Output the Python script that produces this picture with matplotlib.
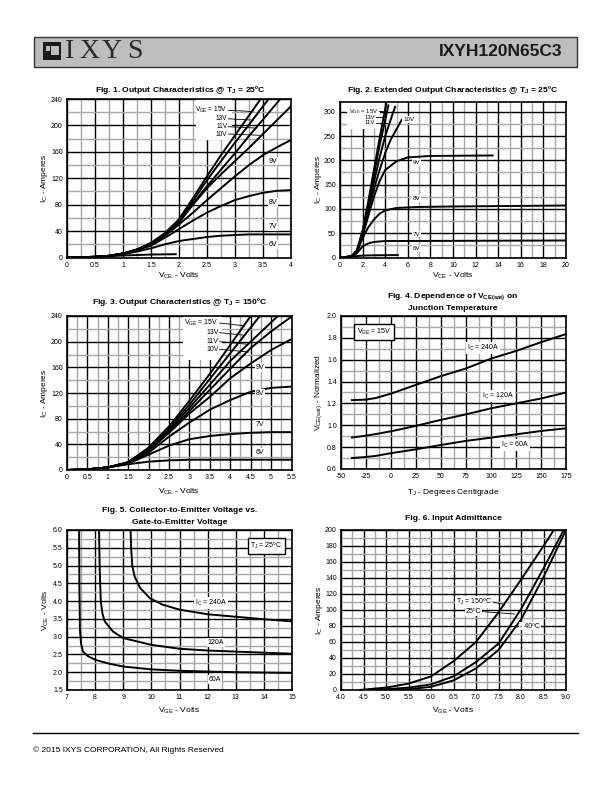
import matplotlib
matplotlib.use('Agg')
import matplotlib.pyplot as plt
from matplotlib.patches import Rectangle
from matplotlib import font_manager
import numpy as np

plt.rcParams['font.family'] = ['Liberation Sans', 'DejaVu Sans']
plt.rcParams['mathtext.fontset'] = 'custom'
plt.rcParams['mathtext.rm'] = 'Liberation Sans'
plt.rcParams['mathtext.it'] = 'Liberation Sans:italic'
plt.rcParams['mathtext.bf'] = 'Liberation Sans:bold'

# fuente estrecha para titulos si existe
_nombres = {f.name for f in font_manager.fontManager.ttflist}
if 'Liberation Sans Narrow' in _nombres:
    NARROW, TSIZE = ['Liberation Sans Narrow', 'Liberation Sans'], 7
else:
    NARROW, TSIZE = ['Liberation Sans', 'DejaVu Sans'], 6.1

# ---------------- datos ----------------
# Fig. 1  (Tj = 25C)
f1_vce = [0, 0.5, 0.75, 1.0, 1.25, 1.5, 1.75, 2.0, 2.25, 2.5, 2.75, 3.0, 3.25, 3.5, 3.75, 4.0]
f1_15v = [0, 1, 2.5, 6, 12, 22, 37, 58, 90, 123, 155, 185, 215, 245, 275, 305]
f1_13v = [0, 1, 2.5, 6, 12, 22, 36, 56, 86, 117, 146, 174, 201, 229, 256, 283]
f1_11v = [0, 1, 2.5, 6, 12, 21, 35, 54, 82, 108, 133, 158, 184, 209, 234, 259]
f1_10v = [0, 1, 2.5, 6, 12, 21, 35, 53, 80, 105, 126, 146, 166, 187, 208, 229]
f1_9v = [0, 1, 2.5, 6, 12, 20, 33, 50, 68, 87, 105, 123, 140, 155, 167, 178]
f1_8v = [0, 1, 2.5, 6, 11, 18, 30, 43, 56, 68, 78, 87, 93, 98, 101, 102]
f1_7v = [0, 1, 2.5, 5, 9, 14, 20, 25, 28, 31, 33, 34, 35, 35, 35, 35]
f1_6v_x = [0, 0.5, 1.0, 1.5, 1.96]
f1_6v = [0, 1, 3, 4.5, 5]

# Fig. 2  (extendida)
f2_15v_x = [0, 1, 1.5, 2, 2.5, 3, 3.5, 4.1]
f2_15v = [0, 2, 15, 55, 115, 180, 245, 318]
f2_13v_x = [0, 1, 1.5, 2, 2.5, 3, 3.5, 4.3]
f2_13v = [0, 2, 14, 53, 110, 170, 230, 315]
f2_11v_x = [0, 1, 1.5, 2, 2.5, 3, 3.5, 4, 4.9]
f2_11v = [0, 2, 14, 50, 102, 155, 205, 250, 312]
f2_10v_x = [0, 1, 1.5, 2, 2.5, 3, 3.5, 4, 4.5, 5.5]
f2_10v = [0, 2, 13, 48, 95, 140, 180, 215, 243, 285]
f2_9v_x = [0, 1, 1.5, 2, 2.5, 3, 3.5, 4, 5, 6, 8, 13.6]
f2_9v = [0, 2, 12, 44, 85, 125, 157, 180, 198, 206, 209, 210]
f2_8v_x = [0, 1, 1.5, 2, 2.5, 3, 3.5, 4, 5, 7, 10, 20]
f2_8v = [0, 2, 11, 40, 62, 78, 90, 97, 102, 104, 105, 107]
f2_7v_x = [0, 1, 1.5, 2, 2.5, 3, 4, 6, 20]
f2_7v = [0, 2, 9, 23, 29, 32, 34, 34, 35]
f2_6v_x = [0, 1, 2, 3, 5.2]
f2_6v = [0, 2, 4, 4.5, 5]

# Fig. 3  (Tj = 150C)
f3_vce = [0, 0.5, 1, 1.5, 2, 2.5, 3, 3.5, 4, 4.5, 5, 5.5]
f3_15v = [0, 1, 4, 12, 35, 68, 108, 150, 195, 240, 285, 330]
f3_13v = [0, 1, 4, 12, 34, 65, 102, 142, 182, 222, 262, 302]
f3_11v = [0, 1, 4, 12, 33, 62, 97, 133, 170, 200, 230, 260]
f3_10v = [0, 1, 4, 12, 32, 60, 92, 125, 158, 190, 216, 239]
f3_9v = [0, 1, 4, 12, 30, 58, 88, 114, 143, 166, 187, 204]
f3_8v = [0, 1, 4, 11, 27, 52, 74, 94, 109, 122, 128, 130]
f3_7v = [0, 1, 4, 10, 24, 38, 48, 53, 56, 58, 59, 59]
f3_6v = [0, 1, 4, 9, 13, 15, 16, 16, 16, 16, 16, 16]

# Fig. 4  VCE(sat) normalizada
f4_tj = [-40, -25, -15, 0, 25, 50, 75, 100, 125, 150, 175]
f4_240a = [1.23, 1.235, 1.25, 1.29, 1.37, 1.45, 1.52, 1.61, 1.68, 1.76, 1.835]
f4_120a = [0.887, 0.905, 0.92, 0.945, 0.995, 1.05, 1.10, 1.155, 1.20, 1.245, 1.30]
f4_60a = [0.70, 0.71, 0.72, 0.745, 0.78, 0.82, 0.857, 0.887, 0.917, 0.948, 0.972]

# Fig. 5  VCE vs VGE
f5_240a_x = [9.26, 9.28, 9.32, 9.4, 9.6, 9.95, 10.4, 11, 12, 13, 14, 15]
f5_240a = [6.0, 5.5, 5.0, 4.7, 4.37, 4.08, 3.9, 3.76, 3.63, 3.56, 3.49, 3.43]
f5_120a_x = [8.14, 8.16, 8.2, 8.26, 8.34, 8.64, 9, 10, 11, 12, 13, 14, 15]
f5_120a = [6.0, 5.0, 4.0, 3.65, 3.43, 3.14, 2.96, 2.77, 2.66, 2.61, 2.58, 2.55, 2.52]
f5_60a_x = [7.43, 7.44, 7.46, 7.5, 7.57, 7.75, 8, 8.5, 9, 10, 11, 12, 13, 14, 15]
f5_60a = [6.0, 4.5, 3.2, 2.8, 2.58, 2.45, 2.35, 2.24, 2.16, 2.08, 2.04, 2.02, 2.0, 1.99, 1.98]

# Fig. 6  admitancia de entrada
f6_150c_x = [4.4, 5.0, 5.5, 6.0, 6.5, 7.0, 7.5, 8.0, 8.5, 8.73]
f6_150c = [0, 3, 8, 17, 36, 60, 97, 138, 180, 200]
f6_25c_x = [4.6, 5.0, 5.5, 6.0, 6.5, 7.0, 7.5, 8.0, 8.5, 8.95]
f6_25c = [0, 1, 3, 7, 17, 35, 58, 101, 152, 200]
f6_m40c_x = [5.0, 5.5, 6.0, 6.5, 7.0, 7.5, 8.0, 8.5, 9.0]
f6_m40c = [0, 1, 4, 12, 27, 50, 88, 141, 200]

W, H = 612, 792
fig = plt.figure(figsize=(6.12, 7.92), dpi=100)


def px_axes(l, t, r, b):
    return fig.add_axes([l / W, 1 - b / H, (r - l) / W, (b - t) / H])


def preparar(ax, xlim, ylim, xt, xm, yt, ym, xfmt, yfmt):
    ax.set_xlim(*xlim)
    ax.set_ylim(*ylim)
    ax.set_xticks(xt)
    ax.set_xticks(xm, minor=True)
    ax.set_yticks(yt)
    ax.set_yticks(ym, minor=True)
    ax.set_xticklabels([xfmt.format(v) for v in xt])
    ax.set_yticklabels([yfmt.format(v) for v in yt])
    ax.set_axisbelow(True)
    ax.grid(True, which='major', color='black', lw=1.0)
    ax.grid(True, which='minor', color='#a8a8a8', lw=1.0)
    ax.tick_params(which='both', length=0, labelsize=5, pad=3)
    for s in ax.spines.values():
        s.set_linewidth(1.2)


def curva(ax, x, y):
    ax.plot(x, y, color='black', lw=1.4, solid_capstyle='butt')


def etiqueta(ax, x, y, s, ha='left', fondo=True, size=5):
    kw = dict(fontsize=size, ha=ha, va='center', zorder=4)
    if fondo:
        kw['bbox'] = dict(facecolor='white', edgecolor='none', pad=0.6)
    ax.text(x, y, s, **kw)


def guia(ax, x0, x1, y0, y1):
    ax.plot([x0, x1], [y0, y1], color='black', lw=0.6, zorder=4)


def titulo(x, y, s):
    fig.text(x / W, 1 - y / H, s, fontsize=TSIZE, weight='bold', family=NARROW,
             ha='center', va='center')


ic_lab = r'I$_{\mathrm{C}}$ - Amperes'
gr = '\u00baC'

# ---------- Fig. 1 ----------
ax1 = px_axes(67, 99, 291, 257.5)
preparar(ax1, (0, 4), (0, 240), [0, 0.5, 1, 1.5, 2, 2.5, 3, 3.5, 4],
         np.arange(0.25, 4, 0.5), [0, 40, 80, 120, 160, 200, 240],
         np.arange(20, 240, 40), '{:g}', '{:g}')
ax1.add_patch(Rectangle((2.3, 178), 0.65, 62, facecolor='white', edgecolor='none', zorder=1))
for y in [f1_15v, f1_13v, f1_11v, f1_10v, f1_9v, f1_8v, f1_7v]:
    curva(ax1, f1_vce, y)
curva(ax1, f1_6v_x, f1_6v)
for s, yy, xe in [(r'V$_{\mathrm{GE}}$ = 15V', 223, 3.32), ('13V', 210, 3.33),
                  ('11V', 198, 3.39), ('10V', 187, 3.45)]:
    etiqueta(ax1, 2.86, yy, s, ha='right', fondo=False, size=4.7)
    guia(ax1, 2.88, xe, yy, yy - 2)
for s, yy in [('9V', 146), ('8V', 83), ('7V', 47), ('6V', 20)]:
    etiqueta(ax1, 3.6, yy, s)
ax1.set_ylabel(ic_lab, fontsize=6)
ax1.yaxis.set_label_coords(-0.075, 0.5)
ax1.set_xlabel(r'V$_{\mathrm{CE}}$ - Volts', fontsize=6)
ax1.xaxis.set_label_coords(0.5, -0.085)
titulo(180, 90, 'Fig. 1. Output Characteristics @ T$_{\\mathbf{J}}$ = 25' + gr)

# ---------- Fig. 2 ----------
ax2 = px_axes(340, 102, 566, 257.5)
preparar(ax2, (0, 20), (0, 320), list(range(0, 21, 2)), np.arange(1, 20, 2),
         [0, 50, 100, 150, 200, 250, 300], np.arange(25, 320, 50), '{:g}', '{:g}')
ax2.add_patch(Rectangle((0.6, 265), 2.9, 55, facecolor='white', edgecolor='none', zorder=1))
for x, y in [(f2_15v_x, f2_15v), (f2_13v_x, f2_13v), (f2_11v_x, f2_11v),
             (f2_10v_x, f2_10v), (f2_9v_x, f2_9v), (f2_8v_x, f2_8v),
             (f2_7v_x, f2_7v), (f2_6v_x, f2_6v)]:
    curva(ax2, x, y)
etiqueta(ax2, 3.4, 301, r'V$_{\mathrm{GE}}$ = 15V', ha='right', fondo=False, size=4.2)
guia(ax2, 3.45, 3.95, 301, 301)
etiqueta(ax2, 3.1, 289, '13V', ha='right', fondo=False, size=4.2)
guia(ax2, 3.15, 3.9, 289, 289)
etiqueta(ax2, 3.1, 277, '11V', ha='right', fondo=False, size=4.2)
guia(ax2, 3.15, 4.15, 277, 277)
etiqueta(ax2, 5.6, 284, '10V', size=4.5)
for s, yy in [('9V', 195), ('8V', 121), ('7V', 48), ('6V', 19)]:
    etiqueta(ax2, 6.4, yy, s, size=4.5)
ax2.set_ylabel(ic_lab, fontsize=6)
ax2.yaxis.set_label_coords(-0.072, 0.5)
ax2.set_xlabel(r'V$_{\mathrm{CE}}$ - Volts', fontsize=6)
ax2.xaxis.set_label_coords(0.5, -0.085)
titulo(453, 90, 'Fig. 2. Extended Output Characteristics @ T$_{\\mathbf{J}}$ = 25' + gr)

# ---------- Fig. 3 ----------
ax3 = px_axes(67, 316, 291.5, 470)
preparar(ax3, (0, 5.5), (0, 240), [0, 0.5, 1, 1.5, 2, 2.5, 3, 3.5, 4, 4.5, 5, 5.5],
         np.arange(0.25, 5.5, 0.5), [0, 40, 80, 120, 160, 200, 240],
         np.arange(20, 240, 40), '{:g}', '{:g}')
ax3.add_patch(Rectangle((2.85, 172), 0.95, 68, facecolor='white', edgecolor='none', zorder=1))
for y in [f3_15v, f3_13v, f3_11v, f3_10v, f3_9v, f3_8v, f3_7v, f3_6v]:
    curva(ax3, f3_vce, y)
for s, yy, xe in [(r'V$_{\mathrm{GE}}$ = 15V', 229, 4.3), ('13V', 214, 4.35),
                  ('11V', 200, 4.42), ('10V', 188, 4.45)]:
    etiqueta(ax3, 3.72, yy, s, ha='right', fondo=False)
    guia(ax3, 3.74, xe, yy, yy - 4)
for s, yy in [('9V', 160), ('8V', 119), ('7V', 71), ('6V', 27)]:
    etiqueta(ax3, 4.62, yy, s)
ax3.set_ylabel(ic_lab, fontsize=6)
ax3.yaxis.set_label_coords(-0.075, 0.5)
ax3.set_xlabel(r'V$_{\mathrm{CE}}$ - Volts', fontsize=6)
ax3.xaxis.set_label_coords(0.5, -0.11)
titulo(180, 302, 'Fig. 3. Output Characteristics @ T$_{\\mathbf{J}}$ = 150' + gr)

# ---------- Fig. 4 ----------
ax4 = px_axes(341, 316, 566, 469)
preparar(ax4, (-50, 175), (0.6, 2.0), list(range(-50, 176, 25)),
         np.arange(-37.5, 175, 25), [0.6, 0.8, 1.0, 1.2, 1.4, 1.6, 1.8, 2.0],
         np.arange(0.7, 2.0, 0.2), '{:g}', '{:.1f}')
for y in [f4_240a, f4_120a, f4_60a]:
    curva(ax4, f4_tj, y)
etiqueta(ax4, 92, 1.71, r'I$_{\mathrm{C}}$ = 240A', ha='center')
etiqueta(ax4, 107, 1.27, r'I$_{\mathrm{C}}$ = 120A', ha='center')
etiqueta(ax4, 124, 0.82, r'I$_{\mathrm{C}}$ = 60A', ha='center')
ax4.text(0.07, 0.895, r'V$_{\mathrm{GE}}$ = 15V', transform=ax4.transAxes, fontsize=5,
         va='center', ha='left', zorder=4,
         bbox=dict(facecolor='white', edgecolor='black', lw=1.0, pad=2.0))
ax4.set_ylabel(r'V$_{\mathrm{CE(sat)}}$ - Normalized', fontsize=6)
ax4.yaxis.set_label_coords(-0.076, 0.5)
ax4.set_xlabel(r'T$_{\mathrm{J}}$ - Degrees Centigrade', fontsize=6)
ax4.xaxis.set_label_coords(0.5, -0.12)
titulo(453, 297, 'Fig. 4. Dependence of V$_{\\mathbf{CE(sat)}}$ on')
titulo(453, 309, 'Junction Temperature')

# ---------- Fig. 5 ----------
ax5 = px_axes(67, 530, 292, 690)
preparar(ax5, (7, 15), (1.5, 6.0), list(range(7, 16)), np.arange(7.5, 15, 1),
         [1.5, 2.0, 2.5, 3.0, 3.5, 4.0, 4.5, 5.0, 5.5, 6.0],
         np.arange(1.75, 6.0, 0.5), '{:g}', '{:.1f}')
for x, y in [(f5_240a_x, f5_240a), (f5_120a_x, f5_120a), (f5_60a_x, f5_60a)]:
    curva(ax5, x, y)
etiqueta(ax5, 11.55, 3.94, r'I$_{\mathrm{C}}$ = 240A')
etiqueta(ax5, 12.0, 2.83, '120A')
etiqueta(ax5, 12.05, 1.8, '60A')
ax5.text(0.815, 0.9, 'T$_{\\mathrm{J}}$ = 25' + gr, transform=ax5.transAxes, fontsize=5,
         va='center', ha='left', zorder=4,
         bbox=dict(facecolor='white', edgecolor='black', lw=1.0, pad=2.0))
ax5.set_ylabel(r'V$_{\mathrm{CE}}$ - Volts', fontsize=6)
ax5.yaxis.set_label_coords(-0.072, 0.5)
ax5.set_xlabel(r'V$_{\mathrm{GE}}$ - Volts', fontsize=6)
ax5.xaxis.set_label_coords(0.5, -0.1)
titulo(180, 511, 'Fig. 5. Collector-to-Emitter Voltage vs.')
titulo(180, 523, 'Gate-to-Emitter Voltage')

# ---------- Fig. 6 ----------
ax6 = px_axes(341, 530, 566, 690)
preparar(ax6, (4, 9), (0, 200), [4.0, 4.5, 5.0, 5.5, 6.0, 6.5, 7.0, 7.5, 8.0, 8.5, 9.0],
         np.arange(4.25, 9, 0.5), list(range(0, 201, 20)), np.arange(10, 200, 20),
         '{:.1f}', '{:g}')
for x, y in [(f6_150c_x, f6_150c), (f6_25c_x, f6_25c), (f6_m40c_x, f6_m40c)]:
    curva(ax6, x, y)
etiqueta(ax6, 7.35, 110, 'T$_{\\mathrm{J}}$ = 150' + gr, ha='right')
guia(ax6, 7.37, 7.62, 110, 107)
etiqueta(ax6, 7.12, 98, '25' + gr, ha='right')
guia(ax6, 7.14, 7.85, 98, 95)
etiqueta(ax6, 7.98, 80, '- 40' + gr)
ax6.set_ylabel(ic_lab, fontsize=6)
ax6.yaxis.set_label_coords(-0.072, 0.5)
ax6.set_xlabel(r'V$_{\mathrm{GE}}$ - Volts', fontsize=6)
ax6.xaxis.set_label_coords(0.5, -0.1)
titulo(453, 519, 'Fig. 6. Input Admittance')

# ---------- cabecera y pie ----------
fig.patches.append(Rectangle((34 / W, 1 - 67 / H), 543 / W, 30 / H, transform=fig.transFigure,
                             facecolor='#bdbdbd', edgecolor='#333333', lw=1.0))
fig.patches.append(Rectangle((43 / W, 1 - 60 / H), 18 / W, 18 / H, transform=fig.transFigure,
                             facecolor='#1a1a1a', edgecolor='none'))
fig.patches.append(Rectangle((51 / W, 1 - 55 / H), 8 / W, 9 / H, transform=fig.transFigure,
                             facecolor='#bdbdbd', edgecolor='none'))
fig.patches.append(Rectangle((46 / W, 1 - 51 / H), 4 / W, 5 / H, transform=fig.transFigure,
                             facecolor='#bdbdbd', edgecolor='none'))
for ch, xc in [('I', 70), ('X', 89), ('Y', 112), ('S', 134.5)]:
    fig.text(xc / W, 1 - 52 / H, ch, fontsize=20, family=['Liberation Serif', 'DejaVu Serif'],
             color='#2a2a2a', ha='center', va='center')
fig.text(562 / W, 1 - 52 / H, 'IXYH120N65C3', fontsize=12.5, weight='bold',
         ha='right', va='center', color='#1a1a1a')

fig.add_artist(plt.Line2D([33 / W, 578 / W], [1 - 733 / H, 1 - 733 / H], color='black', lw=1.0))
fig.text(33 / W, 1 - 750 / H, '\u00a9 2015 IXYS CORPORATION, All Rights Reserved', fontsize=6,
         ha='left', va='center')

fig.savefig('out.png', dpi=100)
